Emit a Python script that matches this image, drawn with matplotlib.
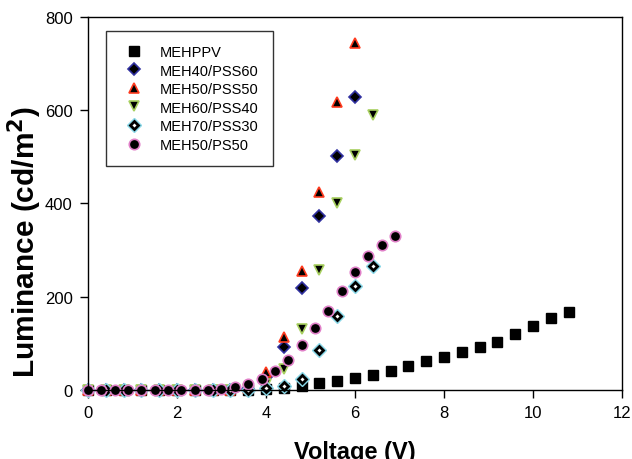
import numpy as np
import matplotlib
matplotlib.use('Agg')
import matplotlib.pyplot as plt
from matplotlib.lines import Line2D

plt.rcParams['font.family'] = ['Liberation Sans', 'DejaVu Sans']

# voltage grids
v_meh = [0.0, 0.4, 0.8, 1.2, 1.6, 2.0, 2.4, 2.8, 3.2, 3.6, 4.0, 4.4, 4.8, 5.2,
         5.6, 6.0, 6.4, 6.8, 7.2, 7.6, 8.0, 8.4, 8.8, 9.2, 9.6, 10.0, 10.4, 10.8]
lum_meh = [0, 0, 0, 0, 0, 0, 0, 0, 0, 1, 2, 5, 9, 15,
           19, 25, 32, 41, 51, 62, 71, 81, 92, 104, 120, 138, 155, 168]

v_to6 = [0.0, 0.4, 0.8, 1.2, 1.6, 2.0, 2.4, 2.8, 3.2, 3.6, 4.0, 4.4, 4.8, 5.2, 5.6, 6.0]
v_to64 = v_to6 + [6.4]

lum_40_60 = [0, 0, 0, 0, 0, 0, 0, 0, 0, 3, 27, 93, 218, 373, 502, 628]
lum_50_50 = [0, 0, 0, 0, 0, 0, 0, 0, 0, 5, 39, 113, 256, 424, 618, 744]
lum_60_40 = [0, 0, 0, 0, 0, 0, 0, 0, 0, 2, 13, 45, 131, 257, 401, 504, 590]
lum_70_30 = [0, 0, 0, 0, 0, 0, 0, 0, 0, 1, 4, 9, 24, 86, 159, 222, 265]

v_ps = [0.0, 0.3, 0.6, 0.9, 1.2, 1.5, 1.8, 2.1, 2.4, 2.7, 3.0, 3.3, 3.6, 3.9,
        4.2, 4.5, 4.8, 5.1, 5.4, 5.7, 6.0, 6.3, 6.6, 6.9]
lum_ps = [0, 0, 0, 0, 0, 0, 0, 0, 0, 0, 2, 6, 13, 24,
          41, 64, 96, 132, 170, 213, 252, 288, 310, 330]

fig = plt.figure(figsize=(6.32, 4.6), dpi=100)
ax = fig.add_axes([0.1392, 0.15, 0.845, 0.811])

ms = 7
ax.plot(v_meh, lum_meh, 's', color='black', ms=ms, mec='black', clip_on=False)
ax.plot(v_to6, lum_40_60, 'D', color='black', ms=ms - 0.5, mec='#3030a0', mew=1.2, clip_on=False)
ax.plot(v_to6, lum_50_50, '^', color='black', ms=ms, mec='#ff3b1f', mew=1.2, clip_on=False)
ax.plot(v_to64, lum_60_40, 'v', color='black', ms=ms, mec='#a8d060', mew=1.2, clip_on=False)
# open-centre diamond with light blue rim
ax.plot(v_to64, lum_70_30, 'D', color='#8ad8e8', ms=ms + 0.5, mec='#8ad8e8', clip_on=False)
ax.plot(v_to64, lum_70_30, 'D', color='white', ms=ms - 2.5, mec='black', mew=2.0, clip_on=False)
ax.plot(v_ps, lum_ps, 'o', color='black', ms=ms + 0.5, mec='#e080c8', mew=1.2, clip_on=False)

ax.set_xlim(0, 12)
ax.set_ylim(0, 800)
ax.set_xticks([0, 2, 4, 6, 8, 10, 12])
ax.set_yticks([0, 200, 400, 600, 800])
ax.tick_params(direction='out', length=6, width=1, labelsize=12, pad=5)
for s in ax.spines.values():
    s.set_linewidth(1.0)

ax.set_xlabel('Voltage (V)', fontsize=17, fontweight='bold', labelpad=14)
ax.set_ylabel('Luminance (cd/m$^\\mathbf{2}$)', fontsize=21.5, fontweight='bold')
ax.yaxis.set_label_coords(-0.082, 0.40)

handles = [
    Line2D([], [], ls='none', marker='s', color='black', ms=ms),
    Line2D([], [], ls='none', marker='D', color='black', ms=ms - 0.5, mec='#3030a0', mew=1.2),
    Line2D([], [], ls='none', marker='^', color='black', ms=ms, mec='#ff3b1f', mew=1.2),
    Line2D([], [], ls='none', marker='v', color='black', ms=ms, mec='#a8d060', mew=1.2),
    (Line2D([], [], ls='none', marker='D', color='#8ad8e8', ms=ms + 0.5),
     Line2D([], [], ls='none', marker='D', color='white', ms=ms - 2.5, mec='black', mew=2.0)),
    Line2D([], [], ls='none', marker='o', color='black', ms=ms + 0.5, mec='#e080c8', mew=1.2),
]
labels = ['MEHPPV', 'MEH40/PSS60', 'MEH50/PSS50', 'MEH60/PSS40', 'MEH70/PSS30', 'MEH50/PS50']
leg = ax.legend(handles, labels, loc='upper left', bbox_to_anchor=(0.034, 0.963),
                borderaxespad=0, fontsize=10.5, frameon=True, fancybox=False,
                edgecolor='black', labelspacing=0.31, handlelength=1.84,
                handletextpad=0.85, borderpad=0.98)
leg.get_frame().set_linewidth(1.0)

fig.savefig('out.png', dpi=100)
